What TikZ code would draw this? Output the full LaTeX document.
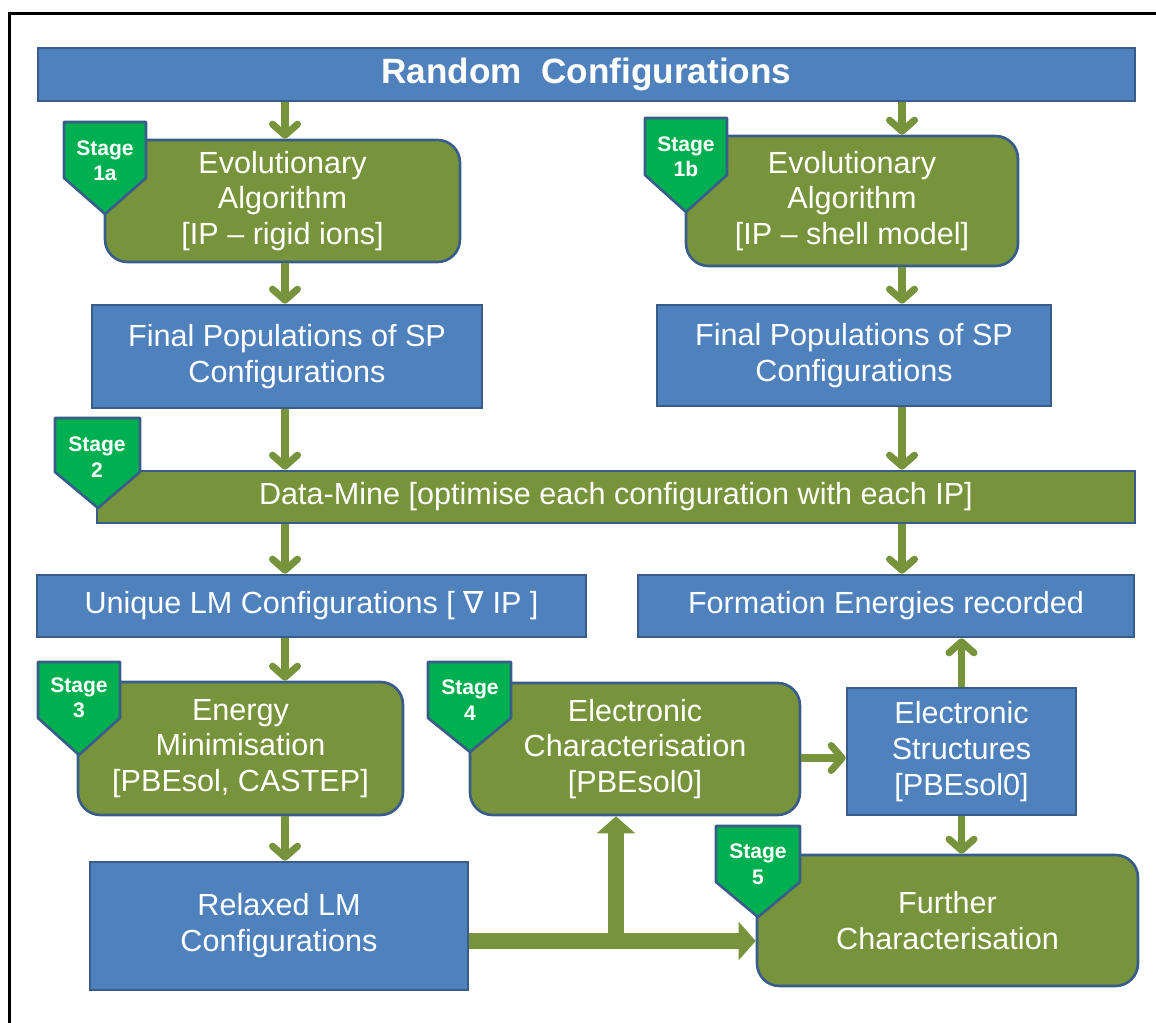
\documentclass[tikz,border=0pt]{standalone}
\usepackage{fontspec}
\setmainfont{Liberation Sans}
\newfontfamily\nablafont{DejaVu Sans}
\usetikzlibrary{arrows.meta}
\definecolor{boxblue}{RGB}{79,129,189}
\definecolor{edgeblue}{RGB}{56,93,138}
\definecolor{stageolive}{RGB}{119,147,60}
\definecolor{stagegreen}{RGB}{0,176,80}
\newcommand{\boxfont}{\fontsize{17.4}{20.4}\selectfont}
\newcommand{\titlefont}{\fontsize{20}{24}\selectfont\bfseries}
\newcommand{\badgefont}{\fontsize{12}{14.5}\selectfont\bfseries}
\tikzset{
  bluebox/.style={draw=edgeblue,fill=boxblue,line width=1.5pt,text=white,align=center,font=\boxfont,inner sep=0pt},
  greenbox/.style={bluebox,fill=stageolive,rounded corners=0.45cm},
  badge/.style={draw=edgeblue,fill=stagegreen,line width=1.5pt,line join=round},
  badgetext/.style={text=white,align=center,font=\badgefont,inner sep=0pt},
  arr/.style={draw=stageolive,line width=4pt,-{Straight Barb[length=0.22cm,width=0.5cm,round]}},
  bigarr/.style={draw=stageolive,line width=9pt,-{Triangle[length=0.34cm,width=0.75cm]}}
}
\begin{document}
\begin{tikzpicture}[x=0.02cm,y=-0.02cm]
\useasboundingbox (0,0) rectangle (1156,1023);
\draw[line width=1.8pt] (9.5,1023) -- (9.5,13.5) -- (1156,13.5);
\coordinate (lc) at (285,0);
\coordinate (rc) at (902,0);
\coordinate (jn) at (616,941);
\node[bluebox,font=\titlefont,minimum width=21.94cm,minimum height=1.06cm] (rand) at (586.5,74.5) {Random\ \ Configurations};
\node[greenbox,minimum width=7.1cm,minimum height=2.44cm] (evoa) at (282.5,201) {Evolutionary\\Algorithm\\{[IP -- rigid ions]}};
\node[greenbox,minimum width=6.64cm,minimum height=2.6cm] (evob) at (852,201) {Evolutionary\\Algorithm\\{[IP -- shell model]}};
\node[bluebox,minimum width=7.8cm,minimum height=2.06cm] (popa) at (287,356.5) {Final Populations of SP\\Configurations};
\node[bluebox,minimum width=7.88cm,minimum height=2.02cm] (popb) at (854,355.5) {Final Populations of SP\\Configurations};
\node[bluebox,fill=stageolive,minimum width=20.76cm,minimum height=1.04cm] (mine) at (616,497) {Data-Mine [optimise each configuration with each IP]};
\node[bluebox,minimum width=10.98cm,minimum height=1.24cm] (uniq) at (311.5,606) {Unique LM Configurations [ {\nablafont ∇} IP ]};
\node[bluebox,minimum width=9.92cm,minimum height=1.24cm] (form) at (886,606) {Formation Energies recorded};
\node[greenbox,minimum width=6.5cm,minimum height=2.66cm] (emin) at (240.5,748.5) {Energy\\Minimisation\\{[PBEsol, CASTEP]}};
\node[greenbox,minimum width=6.6cm,minimum height=2.64cm] (echar) at (635,749) {Electronic\\Characterisation\\{[PBEsol0]}};
\node[bluebox,minimum width=4.58cm,minimum height=2.54cm] (estr) at (961.5,751.5) {Electronic\\Structures\\{[PBEsol0]}};
\node[greenbox,minimum width=7.62cm,minimum height=2.62cm] (fchar) at (947.5,920.5) {Further\\Characterisation};
\node[bluebox,minimum width=7.56cm,minimum height=2.56cm] (relax) at (279,926) {Relaxed LM\\Configurations};
\filldraw[badge] (64,122) -- (146,122) -- (146,178) -- (105,214) -- (64,178) -- cycle;
\node[badgetext] (s1a) at (105,161) {Stage\\1a};
\filldraw[badge] (645,118) -- (727,118) -- (727,175) -- (686,212) -- (645,175) -- cycle;
\node[badgetext] (s1b) at (686,157) {Stage\\1b};
\filldraw[badge] (55,418) -- (140,418) -- (140,472) -- (98,508) -- (55,472) -- cycle;
\node[badgetext] (s2) at (97,457) {Stage\\2};
\filldraw[badge] (38,662) -- (120,662) -- (120,718) -- (79,755) -- (38,718) -- cycle;
\node[badgetext] (s3) at (79,698) {Stage\\3};
\filldraw[badge] (428,662) -- (511,662) -- (511,718) -- (470,752) -- (428,718) -- cycle;
\node[badgetext] (s4) at (470,700) {Stage\\4};
\filldraw[badge] (716,826) -- (800,826) -- (800,882) -- (758,917) -- (716,882) -- cycle;
\node[badgetext] (s5) at (758,864) {Stage\\5};
\draw[arr] (rand.south -| lc) -- (evoa.north -| lc);
\draw[arr] (rand.south -| rc) -- (evob.north -| rc);
\draw[arr] (evoa.south -| lc) -- (popa.north -| lc);
\draw[arr] (evob.south -| rc) -- (popb.north -| rc);
\draw[arr] (popa.south -| lc) -- (mine.north -| lc);
\draw[arr] (popb.south -| rc) -- (mine.north -| rc);
\draw[arr] (mine.south -| lc) -- (uniq.north -| lc);
\draw[arr] (mine.south -| rc) -- (form.north -| rc);
\draw[arr] (uniq.south -| lc) -- (emin.north -| lc);
\draw[arr] (emin.south -| lc) -- (relax.north -| lc);
\draw[arr] ([yshift=-0.18cm]echar.east) -- ([yshift=-0.18cm]echar.east -| estr.west);
\draw[arr] (estr.north) -- (form.south -| estr.north);
\draw[arr] (estr.south) -- (fchar.north -| estr.south);
\draw[bigarr] (relax.east |- jn) -- (fchar.west |- jn);
\draw[bigarr] (jn) -- (echar.south -| jn);
\end{tikzpicture}
\end{document}
